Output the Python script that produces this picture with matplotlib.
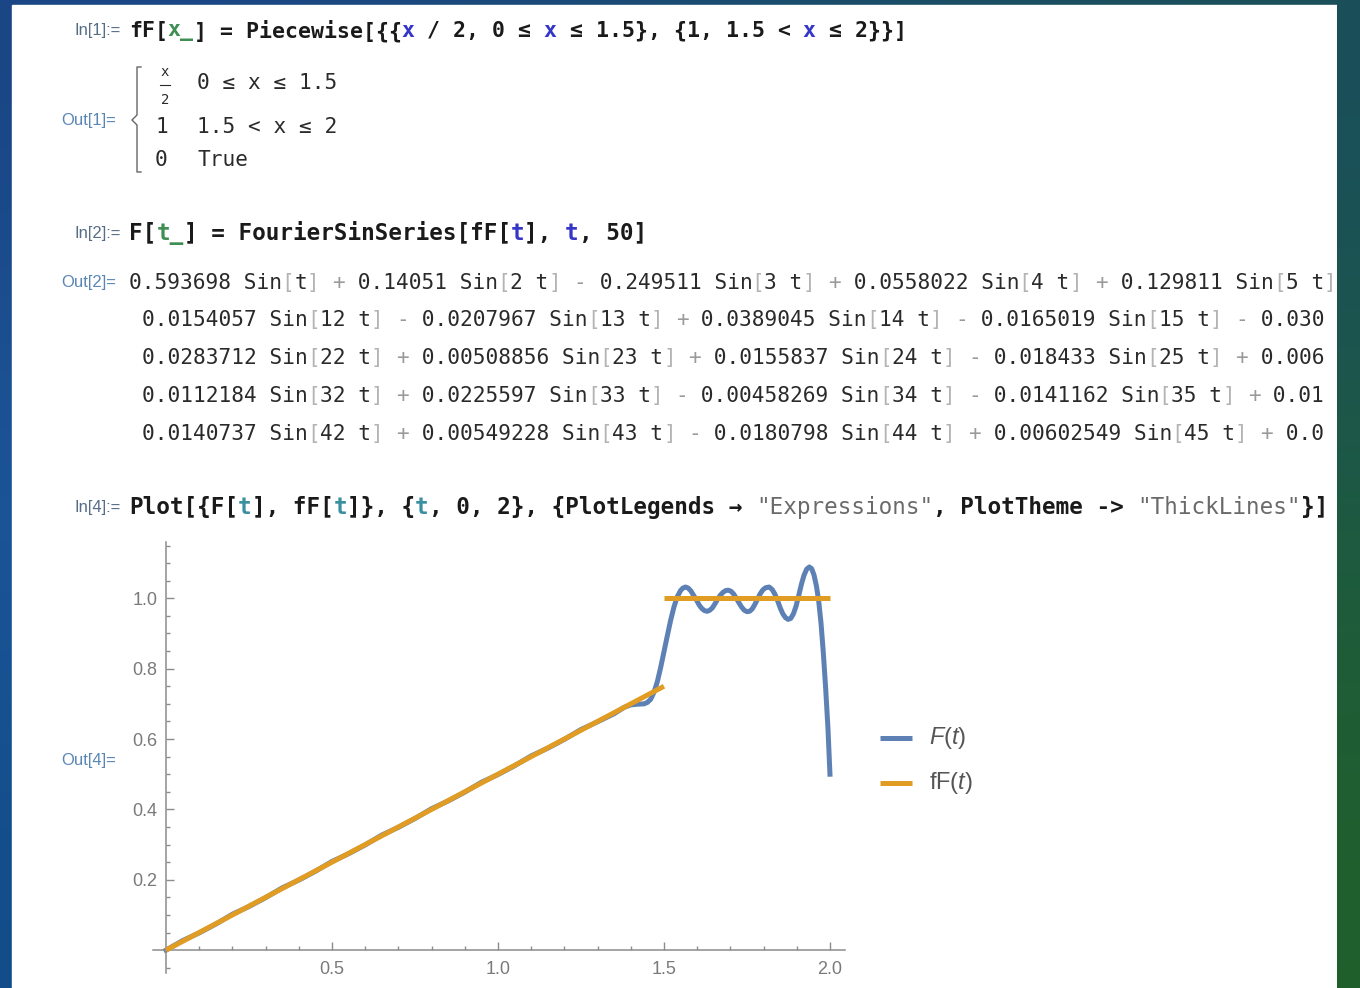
import matplotlib
matplotlib.use("Agg")
import matplotlib.pyplot as plt
import numpy as np
from matplotlib.colors import to_rgb
from matplotlib.lines import Line2D
from matplotlib.patches import Rectangle

W, H = 1360, 988

# values
F_t = [0.00, 0.05, 0.10, 0.15, 0.20, 0.25, 0.30, 0.35, 0.40, 0.45, 0.50,
       0.55, 0.60, 0.65, 0.70, 0.75, 0.80, 0.85, 0.90, 0.95, 1.00, 1.05,
       1.10, 1.15, 1.20, 1.25, 1.30, 1.35, 1.38, 1.40, 1.42, 1.44, 1.45,
       1.46, 1.47, 1.48, 1.49, 1.50, 1.51, 1.52, 1.53, 1.54, 1.55, 1.557,
       1.565, 1.573, 1.581, 1.59, 1.598, 1.606, 1.614, 1.622, 1.63, 1.638,
       1.646, 1.654, 1.662, 1.670, 1.678, 1.686, 1.694, 1.702, 1.710, 1.718,
       1.726, 1.734, 1.742, 1.750, 1.758, 1.766, 1.774, 1.782, 1.790, 1.798,
       1.806, 1.817, 1.826, 1.834, 1.842, 1.850, 1.858, 1.866, 1.874, 1.882,
       1.890, 1.898, 1.906, 1.914, 1.922, 1.930, 1.938, 1.945, 1.952, 1.959,
       1.966, 1.973, 1.980, 1.987, 1.994, 2.000]
F_y = [0.000, 0.027, 0.049, 0.074, 0.102, 0.124, 0.149, 0.177, 0.199, 0.224,
       0.252, 0.274, 0.299, 0.327, 0.349, 0.374, 0.402, 0.424, 0.449, 0.477,
       0.499, 0.524, 0.552, 0.574, 0.599, 0.627, 0.649, 0.672, 0.690, 0.697,
       0.699, 0.700, 0.704, 0.713, 0.733, 0.763, 0.803, 0.848, 0.893, 0.937,
       0.975, 1.004, 1.022, 1.029, 1.032, 1.029, 1.021, 1.007, 0.995, 0.981,
       0.971, 0.965, 0.963, 0.966, 0.973, 0.985, 0.998, 1.009, 1.017, 1.022,
       1.023, 1.020, 1.012, 1.000, 0.987, 0.975, 0.966, 0.962, 0.963, 0.970,
       0.983, 0.998, 1.013, 1.024, 1.030, 1.032, 1.025, 1.012, 0.994, 0.973,
       0.956, 0.945, 0.940, 0.943, 0.956, 0.978, 1.008, 1.040, 1.066, 1.083,
       1.089, 1.084, 1.066, 1.036, 0.993, 0.930, 0.845, 0.745, 0.630, 0.500]

fF_t_a = [0.0, 1.5]
fF_y_a = [0.0, 0.75]
fF_t_b = [1.5, 2.0]
fF_y_b = [1.0, 1.0]

x_major = [0.5, 1.0, 1.5, 2.0]
x_labels = ["0.5", "1.0", "1.5", "2.0"]
y_major = [0.2, 0.4, 0.6, 0.8, 1.0]
y_labels = ["0.2", "0.4", "0.6", "0.8", "1.0"]
x_minor = [0.1, 0.2, 0.3, 0.4, 0.6, 0.7, 0.8, 0.9, 1.1, 1.2, 1.3, 1.4,
           1.6, 1.7, 1.8, 1.9]
y_minor = [-0.05, 0.05, 0.1, 0.15, 0.25, 0.3, 0.35, 0.45, 0.5, 0.55, 0.65,
           0.7, 0.75, 0.85, 0.9, 0.95, 1.05, 1.1, 1.15]

out2_rows = [
    "0.593698 Sin[t] + 0.14051 Sin[2 t] - 0.249511 Sin[3 t] + 0.0558022 Sin[4 t] + 0.129811 Sin[5 t]",
    "0.0154057 Sin[12 t] - 0.0207967 Sin[13 t] + 0.0389045 Sin[14 t] - 0.0165019 Sin[15 t] - 0.030",
    "0.0283712 Sin[22 t] + 0.00508856 Sin[23 t] + 0.0155837 Sin[24 t] - 0.018433 Sin[25 t] + 0.006",
    "0.0112184 Sin[32 t] + 0.0225597 Sin[33 t] - 0.00458269 Sin[34 t] - 0.0141162 Sin[35 t] + 0.01",
    "0.0140737 Sin[42 t] + 0.00549228 Sin[43 t] - 0.0180798 Sin[44 t] + 0.00602549 Sin[45 t] + 0.0",
]

BLUE = "#5e81b5"
ORANGE = "#e19c24"
K = "#1a1a1a"
G = "#3f8f52"
B = "#3535c8"
T = "#3a8fa0"
S = "#6a6a6a"
MONO = "DejaVu Sans Mono"

plt.rcParams["mathtext.fontset"] = "custom"
plt.rcParams["mathtext.rm"] = "Liberation Sans"
plt.rcParams["mathtext.it"] = "Liberation Sans:italic"


def px(x, y):
    return x / W, 1 - y / H


fig = plt.figure(figsize=(W / 100, H / 100), dpi=100)

# background frame
grid = np.array([
    [to_rgb(c) for c in ("#1a4585", "#1b4b74", "#1a4f5a")],
    [to_rgb(c) for c in ("#1d58a0", "#1c5870", "#1d5a42")],
    [to_rgb(c) for c in ("#124c8c", "#1a5858", "#20602a")],
])


def frame_axes(rect, xlim):
    a = fig.add_axes(rect)
    a.imshow(grid, extent=[0, W, H, 0], interpolation="bicubic", aspect="auto")
    a.set_xlim(*xlim)
    a.set_ylim(H, 0)
    a.axis("off")
    return a


bg = frame_axes([0, 0, 1, 1], (0, W))
bg.set_zorder(-1)
bg.add_patch(Rectangle((12, 5), 1325, 990, color="white"))


def code_line(x0, y, runs, size, weight="bold"):
    cw = 0.602 * size * 100 / 72
    i = 0
    for run in runs:
        text, color = run[0], run[1]
        w = run[2] if len(run) > 2 else weight
        fig.text(*px(x0 + i * cw, y), text, color=color, fontsize=size,
                 family=MONO, weight=w, va="center", ha="left")
        i += len(text)


def output_row(x0, y, text, size):
    runs = []
    for ch in text:
        color = "#b4b4b4" if ch in "[]" else ("#9a9a9a" if ch in "+-" else "#2a2a2a")
        if runs and runs[-1][1] == color:
            runs[-1][0] += ch
        else:
            runs.append([ch, color])
    code_line(x0, y, runs, size, weight="normal")


def cell_label(x, y, text, color):
    fig.text(*px(x, y), text, color=color, fontsize=12, family="Liberation Sans",
             va="center", ha="right")


IN_C = "#566d86"
OUT_C = "#5a86b6"
IN_SIZE = 16.3
OUT_SIZE = 15.2

# In[1]  (this line is set a little tighter in the notebook)
cell_label(121, 31, "In[1]:=", IN_C)
code_line(129, 31, [("fF[", K), ("x_", G), ("] = Piecewise[{{", K), ("x", B),
                    (" / 2, 0 ≤ ", K), ("x", B), (" ≤ 1.5}, {1, 1.5 < ", K),
                    ("x", B), (" ≤ 2}}]", K)], 15.5)

# Out[1]
cell_label(116, 120, "Out[1]=", OUT_C)
bracket = [(141, 67), (137, 67), (137, 115), (132, 120), (137, 125),
           (137, 172), (141, 172)]
fig.add_artist(Line2D([p[0] / W for p in bracket], [1 - p[1] / H for p in bracket],
                      color="#666666", lw=1.0))
fig.text(*px(165, 72), "x", fontsize=10, family=MONO, color="#2a2a2a",
         ha="center", va="center")
fig.add_artist(Line2D([160 / W, 170 / W], [1 - 85 / H] * 2, color="#2a2a2a", lw=0.8))
fig.text(*px(165, 100), "2", fontsize=10, family=MONO, color="#2a2a2a",
         ha="center", va="center")
code_line(197, 83, [("0 ≤ x ≤ 1.5", "#2a2a2a")], OUT_SIZE, weight="normal")
code_line(155, 127, [("1", "#2a2a2a")], OUT_SIZE, weight="normal")
code_line(197, 127, [("1.5 < x ≤ 2", "#2a2a2a")], OUT_SIZE, weight="normal")
code_line(155, 160, [("0", "#2a2a2a")], OUT_SIZE, weight="normal")
code_line(197, 160, [("True", "#2a2a2a")], OUT_SIZE, weight="normal")

# In[2]
cell_label(121, 233, "In[2]:=", IN_C)
code_line(129, 233, [("F[", K), ("t_", G), ("] = FourierSinSeries[fF[", K), ("t", B),
                     ("], ", K), ("t", B), (", 50]", K)], IN_SIZE)

# Out[2]
cell_label(116, 283, "Out[2]=", OUT_C)
row_y = [283, 320, 358, 396, 434]
for k, row in enumerate(out2_rows):
    output_row(129 if k == 0 else 142, row_y[k], row, OUT_SIZE)

# In[4]
cell_label(121, 507, "In[4]:=", IN_C)
code_line(129, 507, [("Plot[{F[", K), ("t", T), ("], fF[", K), ("t", T), ("]}, {", K),
                     ("t", T), (", 0, 2}, {PlotLegends → ", K),
                     ('"Expressions"', S, "normal"), (", PlotTheme -> ", K),
                     ('"ThickLines"', S, "normal"), ("}]", K)], IN_SIZE)

cell_label(116, 761, "Out[4]=", OUT_C)

# the plot
x_lo, x_hi = -0.04, 2.045
y_lo, y_hi = -0.065, 1.16
left_px, right_px = 152.7, 844.9
top_px, bot_px = 542.0, 973.0
ax = fig.add_axes([left_px / W, 1 - bot_px / H, (right_px - left_px) / W,
                   (bot_px - top_px) / H])
ax.patch.set_alpha(0)
ax.plot(F_t, F_y, color=BLUE, lw=3.6, zorder=2, solid_joinstyle="round")
ax.plot(fF_t_a, fF_y_a, color=ORANGE, lw=3.6, zorder=3, solid_capstyle="butt")
ax.plot(fF_t_b, fF_y_b, color=ORANGE, lw=3.6, zorder=3, solid_capstyle="butt")
ax.set_xlim(x_lo, x_hi)
ax.set_ylim(y_lo, y_hi)
for side in ("top", "right"):
    ax.spines[side].set_visible(False)
for side in ("left", "bottom"):
    ax.spines[side].set_position(("data", 0))
    ax.spines[side].set_color("#8c8c8c")
    ax.spines[side].set_linewidth(1.1)
ax.set_xticks(x_major)
ax.set_xticklabels(x_labels)
ax.set_xticks(x_minor, minor=True)
ax.set_yticks(y_major)
ax.set_yticklabels(y_labels)
ax.set_yticks(y_minor, minor=True)
ax.tick_params(which="both", direction="in", color="#8c8c8c", width=1.0,
               labelcolor="#7a7a7a", labelsize=13)
ax.tick_params(which="major", length=5.5)
ax.tick_params(which="minor", length=3.2)
ax.tick_params(axis="x", pad=8)
ax.tick_params(axis="y", pad=6)
for lab in ax.get_xticklabels() + ax.get_yticklabels():
    lab.set_family("Liberation Sans")

# legend
for yy, color, label in [(738, BLUE, r"$F(t)$"), (783, ORANGE, r"$\mathrm{fF}(t)$")]:
    fig.add_artist(Line2D([880 / W, 912 / W], [1 - yy / H] * 2, color=color, lw=3.6,
                          solid_capstyle="butt"))
    fig.text(*px(929, yy), label, fontsize=17, color="#555555", va="center", ha="left")

# right frame strip drawn over the clipped output text
strip = frame_axes([1337 / W, 0, (W - 1337) / W, 1], (1337, W))
strip.set_zorder(5)

fig.savefig("out.png", dpi=100)
